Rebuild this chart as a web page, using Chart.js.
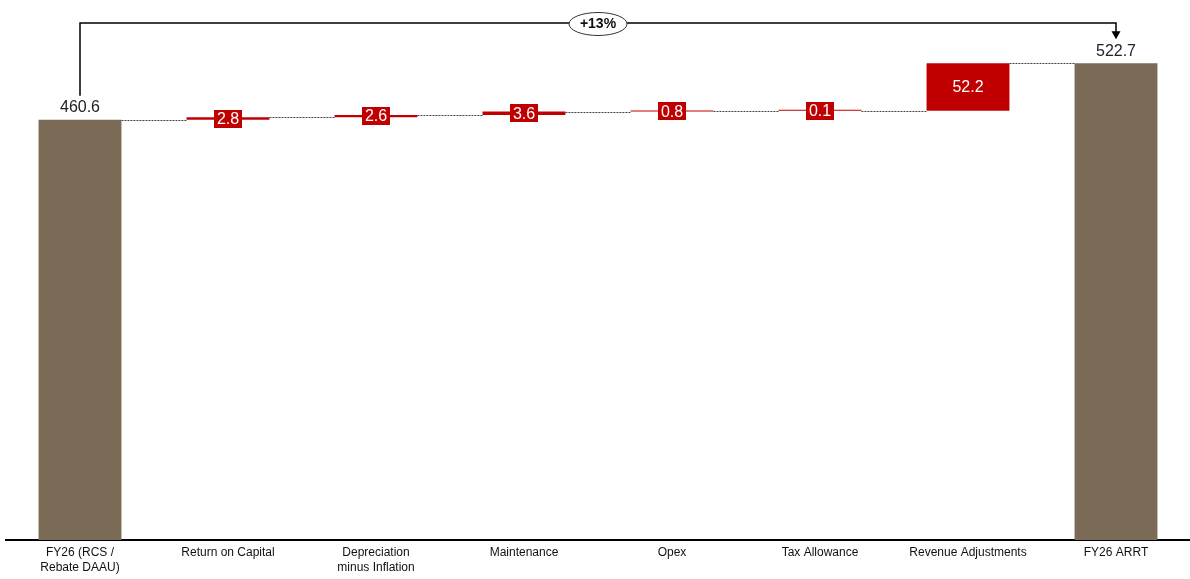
<!DOCTYPE html>
<html>
<head>
<meta charset="utf-8">
<script src="https://cdn.jsdelivr.net/npm/chart.js@4.4.1/dist/chart.umd.min.js"></script>
<style>
  html, body { margin: 0; padding: 0; background: #ffffff; }
  #wrap { width: 1190px; height: 579px; }
</style>
</head>
<body>
<div id="wrap"><canvas id="c" width="1190" height="579"></canvas></div>
<script>
// Waterfall: FY26 RCS/Rebate DAAU bridge to FY26 ARRT
const categories = [
  ["FY26 (RCS /", "Rebate DAAU)"],
  "Return on Capital",
  ["Depreciation", "minus Inflation"],
  "Maintenance",
  "Opex",
  "Tax Allowance",
  "Revenue Adjustments",
  "FY26 ARRT"
];
const startTotal = 460.6;
const changes = [2.8, 2.6, 3.6, 0.8, 0.1, 52.2];
const endTotal = 522.7;
const growthLabel = "+13%";

const TOTAL_COLOR = "#7b6a56";
const CHANGE_COLOR = "#c00000";
const FONT = "'Liberation Sans', Arial, sans-serif";

// floating bar ranges built from the running total
const bars = [[0, startTotal]];
const kinds = ["total"];
let running = startTotal;
changes.forEach(d => {
  bars.push([running, running + d]);
  running += d;
  kinds.push("change");
});
bars.push([0, endTotal]);
kinds.push("total");
const valueLabels = [startTotal, ...changes, endTotal];

const waterfallDecor = {
  id: "waterfallDecor",
  afterDatasetsDraw(chart) {
    const ctx = chart.ctx;
    const meta = chart.getDatasetMeta(0);
    const y = chart.scales.y;
    const els = meta.data;

    // dotted connectors between consecutive bars
    ctx.save();
    ctx.strokeStyle = "#444";
    ctx.lineWidth = 1;
    ctx.setLineDash([2, 1]);
    for (let i = 0; i < els.length - 1; i++) {
      const a = els[i], b = els[i + 1];
      const py = Math.round(y.getPixelForValue(bars[i][1])) + 0.5;
      ctx.beginPath();
      ctx.moveTo(a.x + a.width / 2, py);
      ctx.lineTo(b.x - b.width / 2, py);
      ctx.stroke();
    }
    ctx.restore();

    // value labels
    ctx.save();
    ctx.textAlign = "center";
    ctx.textBaseline = "middle";
    els.forEach((el, i) => {
      const txt = valueLabels[i].toFixed(1);
      if (kinds[i] === "total") {
        ctx.font = "16px " + FONT;
        ctx.fillStyle = "#222";
        ctx.fillText(txt, el.x, y.getPixelForValue(bars[i][1]) - 12);
      } else {
        const cy = (y.getPixelForValue(bars[i][0]) + y.getPixelForValue(bars[i][1])) / 2;
        ctx.font = "16px " + FONT;
        const w = ctx.measureText(txt).width + 6;
        const h = 18;
        ctx.fillStyle = CHANGE_COLOR;
        ctx.fillRect(Math.round(el.x - w / 2), Math.round(cy - h / 2), Math.round(w), h);
        ctx.fillStyle = "#ffffff";
        ctx.fillText(txt, el.x, cy + 1);
      }
    });
    ctx.restore();

    // growth bracket from first total to last total
    const x0 = els[0].x, x1 = els[els.length - 1].x;
    const yTop = 23;
    const leftBottom = y.getPixelForValue(startTotal) - 24;
    const arrowTip = y.getPixelForValue(endTotal) - 24;
    ctx.save();
    ctx.strokeStyle = "#000";
    ctx.fillStyle = "#000";
    ctx.lineWidth = 1.5;
    ctx.beginPath();
    ctx.moveTo(x0, leftBottom);
    ctx.lineTo(x0, yTop);
    ctx.lineTo(x1, yTop);
    ctx.lineTo(x1, arrowTip - 7);
    ctx.stroke();
    ctx.beginPath();
    ctx.moveTo(x1 - 4.5, arrowTip - 8);
    ctx.lineTo(x1 + 4.5, arrowTip - 8);
    ctx.lineTo(x1, arrowTip);
    ctx.closePath();
    ctx.fill();

    const cx = (x0 + x1) / 2;
    ctx.beginPath();
    ctx.ellipse(cx, yTop + 1, 29, 11.5, 0, 0, Math.PI * 2);
    ctx.fillStyle = "#ffffff";
    ctx.fill();
    ctx.lineWidth = 1;
    ctx.strokeStyle = "#333";
    ctx.stroke();
    ctx.fillStyle = "#111";
    ctx.font = "bold 14px " + FONT;
    ctx.textAlign = "center";
    ctx.textBaseline = "middle";
    ctx.fillText(growthLabel, cx, yTop + 1);
    ctx.restore();
  }
};

new Chart(document.getElementById("c"), {
  type: "bar",
  data: {
    labels: categories,
    datasets: [{
      data: bars,
      backgroundColor: kinds.map(k => k === "total" ? TOTAL_COLOR : CHANGE_COLOR),
      borderWidth: 0,
      categoryPercentage: 1.0,
      barPercentage: 0.56,
      minBarLength: 1
    }]
  },
  options: {
    responsive: false,
    animation: false,
    devicePixelRatio: 1,
    layout: { padding: { top: 20, left: 6, right: 0, bottom: 0 } },
    plugins: {
      legend: { display: false },
      tooltip: { enabled: false }
    },
    scales: {
      x: {
        grid: { display: false, drawTicks: false },
        border: { display: true, color: "#000", width: 2 },
        ticks: {
          color: "#111",
          font: { family: FONT, size: 12, lineHeight: 1.25 },
          padding: 5,
          maxRotation: 0,
          autoSkip: false
        },
        afterFit: s => { s.height = 39; }
      },
      y: {
        display: false,
        min: 0,
        max: 570
      }
    }
  },
  plugins: [waterfallDecor]
});
</script>
</body>
</html>
